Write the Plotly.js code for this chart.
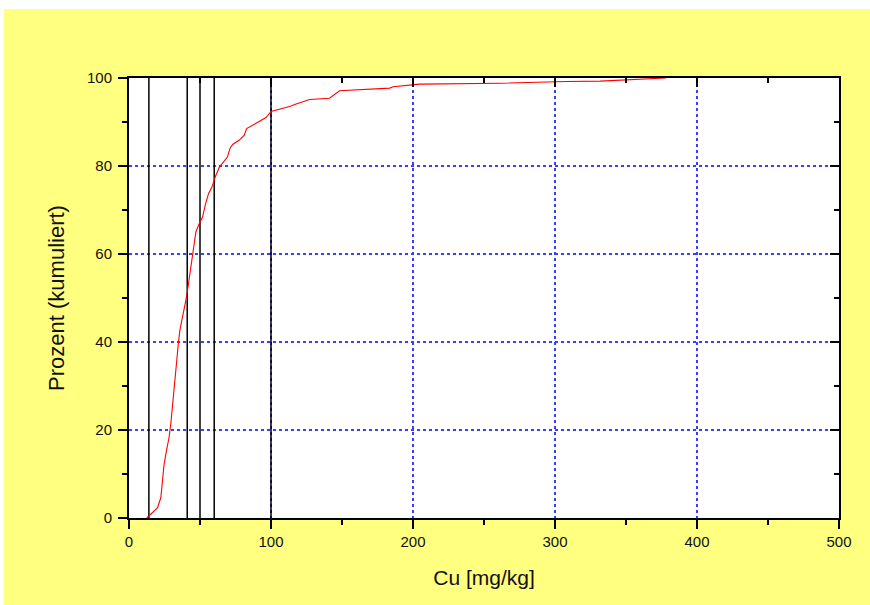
<!DOCTYPE html>
<html>
<head>
<meta charset="utf-8">
<script src="https://cdn.plot.ly/plotly-3.0.1.min.js"></script>
<style>
  html, body { margin: 0; padding: 0; background: #ffffff; }
  #chart { position: absolute; left: 4px; top: 9px; width: 866px; height: 596px; }
</style>
</head>
<body>
<div id="chart"></div>
<script>
// Cumulative distribution of Cu concentrations
const cuValues = [12.5, 16.5, 20, 22.4, 23.5, 24.7, 26.4, 28.2, 29.4, 30.6, 31.8, 33.4, 34.8, 35.8, 37.2, 38.8, 40, 41.2, 43.6, 45.2, 47.1, 49.4, 51.8, 53.7, 56, 58.4, 60.7, 63.6, 67.1, 69.4, 71.1, 73, 77.7, 81.2, 82.8, 87.1, 91.8, 96.5, 100, 105.9, 113, 117.7, 127.1, 141.2, 148.3, 183.6, 186, 204.8, 261.3, 308.4, 331.9, 378];
const cumPercent = [0, 1.2, 2.3, 4.6, 8.4, 12.2, 15.3, 18.3, 21.3, 25.9, 29.7, 35, 39.9, 42.6, 44.9, 47.2, 49.4, 51.7, 57, 60.8, 65, 66.9, 68.4, 71.1, 73.7, 75.2, 77.5, 79.7, 81.3, 82.1, 84, 84.9, 85.9, 87, 88.5, 89.3, 90, 91, 92.4, 92.9, 93.5, 94.1, 95.1, 95.4, 97.1, 97.7, 98, 98.6, 98.8, 99.2, 99.3, 100];

// Reference thresholds (mg/kg) marked as vertical lines
const thresholds = [14, 41, 50, 60, 100];

const xTicks = [0, 100, 200, 300, 400, 500];
const yTicks = [0, 20, 40, 60, 80, 100];

const font = 'Arial, "Liberation Sans", sans-serif';

const traces = thresholds.map(t => ({
  x: [t, t], y: [0, 100],
  mode: 'lines', type: 'scatter',
  line: { color: '#000000', width: 1.5 },
  hoverinfo: 'skip', showlegend: false
}));

traces.push({
  x: cuValues, y: cumPercent,
  mode: 'lines', type: 'scatter',
  line: { color: '#ff0000', width: 1.1 },
  showlegend: false
});

// Invisible trace so the mirrored top/right axes are drawn
traces.push({
  x: [0, 500], y: [0, 100], xaxis: 'x2', yaxis: 'y2',
  mode: 'lines', line: { width: 0 }, opacity: 0,
  hoverinfo: 'skip', showlegend: false
});

const gridBlue = '#3c3cff';

const tickStyle = { tickwidth: 1.5, tickcolor: '#000' };

const layout = {
  width: 866, height: 596,
  margin: { l: 125, r: 31, t: 69, b: 87 },
  paper_bgcolor: '#ffff80',
  plot_bgcolor: '#ffffff',
  font: { family: font, color: '#111111', size: 15 },
  showlegend: false,
  xaxis: Object.assign({
    range: [0, 500], tickvals: xTicks, ticktext: xTicks.map(String),
    ticks: 'outside', ticklen: 9,
    minor: Object.assign({ dtick: 50, tick0: 0, ticks: 'outside', ticklen: 5, showgrid: false }, tickStyle),
    showline: true, linecolor: '#000', linewidth: 2,
    showgrid: true, gridcolor: gridBlue, griddash: 'dot', gridwidth: 1.5,
    zeroline: false,
    title: { text: 'Cu [mg/kg]', font: { size: 21, family: font, color: '#111' }, standoff: 21 },
    tickfont: { size: 15, family: font, color: '#111' }
  }, tickStyle),
  yaxis: Object.assign({
    range: [0, 100], tickvals: yTicks, ticktext: yTicks.map(String),
    ticks: 'outside', ticklen: 9,
    minor: Object.assign({ dtick: 10, tick0: 0, ticks: 'outside', ticklen: 5, showgrid: false }, tickStyle),
    showline: true, linecolor: '#000', linewidth: 2,
    showgrid: true, gridcolor: gridBlue, griddash: 'dot', gridwidth: 1.5,
    zeroline: false, ticklabelstandoff: 3,
    title: { text: 'Prozent (kumuliert)', font: { size: 22, family: font, color: '#111' }, standoff: 16 },
    tickfont: { size: 15, family: font, color: '#111' }
  }, tickStyle),
  xaxis2: Object.assign({
    overlaying: 'x', side: 'top', anchor: 'y2',
    range: [0, 500], tickvals: xTicks, showticklabels: false,
    ticks: 'inside', ticklen: 9,
    minor: Object.assign({ dtick: 50, tick0: 0, ticks: 'inside', ticklen: 5, showgrid: false }, tickStyle),
    showline: true, linecolor: '#000', linewidth: 2,
    showgrid: false, zeroline: false
  }, tickStyle),
  yaxis2: Object.assign({
    overlaying: 'y', side: 'right', anchor: 'x2',
    range: [0, 100], tickvals: yTicks, showticklabels: false,
    ticks: 'inside', ticklen: 9,
    minor: Object.assign({ dtick: 10, tick0: 0, ticks: 'inside', ticklen: 5, showgrid: false }, tickStyle),
    showline: true, linecolor: '#000', linewidth: 2,
    showgrid: false, zeroline: false
  }, tickStyle)
};

Plotly.newPlot('chart', traces, layout, { displayModeBar: false, staticPlot: true });
</script>
</body>
</html>
